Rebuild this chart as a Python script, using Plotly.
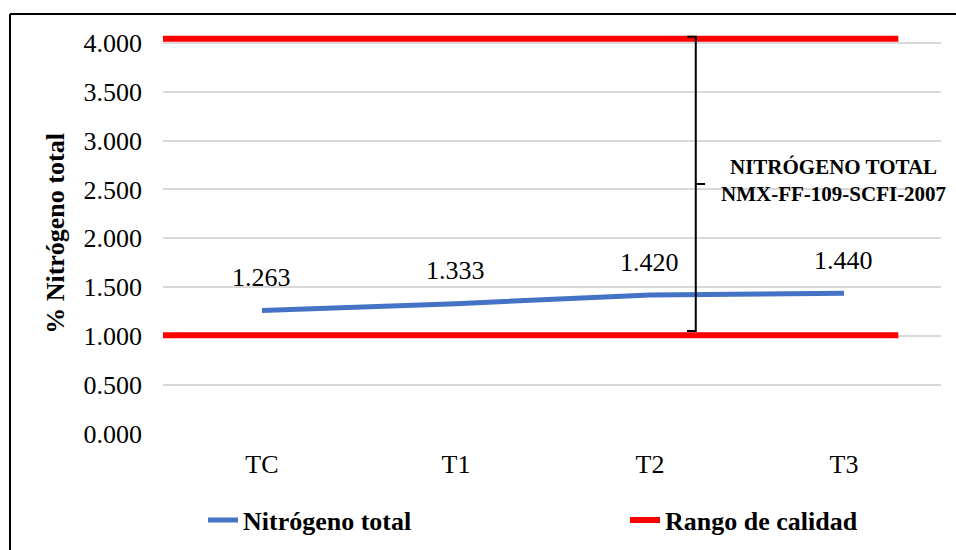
import plotly.graph_objects as go

# ---- data ----
categories = ["TC", "T1", "T2", "T3"]
nitrogen = [1.263, 1.333, 1.420, 1.440]
range_limits = [4.04, 1.01]          # red "Rango de calidad" lines as drawn
range_x = [-0.51, 3.28]              # horizontal extent of the red lines
y_ticks = [0, 0.5, 1, 1.5, 2, 2.5, 3, 3.5, 4]
y_ticktext = [f"{v:.3f}" for v in y_ticks]
norm_text = "NITRÓGENO TOTAL<br>NMX-FF-109-SCFI-2007"

FONT = "Liberation Serif, Times New Roman, serif"
x_pos = list(range(len(categories)))

# figure geometry (page body margin removed below, so figure px = page px)
W, H = 956, 550
L, R, T, B = 163, 15, 33, 116
PW, PH = W - L - R, H - T - B

fig = go.Figure()

fig.add_trace(go.Scatter(
    x=x_pos, y=nitrogen, mode="lines", name="Nitrógeno total",
    line=dict(color="#4472C4", width=5), hoverinfo="skip", legend="legend",
))

rx, ry = [], []
for v in range_limits:
    rx += [range_x[0], range_x[1], None]
    ry += [v, v, None]
fig.add_trace(go.Scatter(
    x=rx, y=ry, mode="lines", name="Rango de calidad",
    line=dict(color="#FF0000", width=6), hoverinfo="skip", legend="legend2",
))

# data labels
for xi, v in zip(x_pos, nitrogen):
    fig.add_annotation(x=xi, y=v, text=f"{v:.3f}", showarrow=False,
                       yshift=33, font=dict(family=FONT, size=26, color="#000"))

# brace
bx, bl, br = 2.236, 2.191, 2.284
btop, bmid, bbot = 4.062, 2.556, 1.053
fig.add_shape(type="path", xref="x", yref="y",
              path=f"M {bl},{btop} L {bx},{btop} L {bx},{bbot} L {bl},{bbot} M {bx},{bmid} L {br},{bmid}",
              line=dict(color="#000", width=2))
fig.add_annotation(x=2.944, y=2.597, text=norm_text, showarrow=False,
                   font=dict(family=FONT, size=21, color="#000", weight="bold"),
                   align="center")

# outer frame: only top and left edges are visible in the window
fx0, fy0 = (10 - L) / PW, (T + PH - 14) / PH
fig.add_shape(type="line", xref="paper", yref="paper",
              x0=fx0, x1=(W + 20 - L) / PW, y0=fy0, y1=fy0,
              line=dict(color="#000", width=2), layer="above")
fig.add_shape(type="line", xref="paper", yref="paper",
              x0=fx0, x1=fx0, y0=fy0, y1=-(B + 20) / PH,
              line=dict(color="#000", width=2), layer="above")

leg_font = dict(family=FONT, size=26, color="#000", weight="bold")
fig.update_layout(
    width=W, height=H,
    margin=dict(l=L, r=R, t=T, b=B, autoexpand=False),
    paper_bgcolor="white", plot_bgcolor="white",
    font=dict(family=FONT, size=26, color="#000"),
    showlegend=True,
    legend=dict(orientation="h", x=(203 - L) / PW, y=-86 / PH, xanchor="left",
                yanchor="middle", font=leg_font, bgcolor="rgba(0,0,0,0)"),
    legend2=dict(orientation="h", x=(625 - L) / PW, y=-86 / PH, xanchor="left",
                 yanchor="middle", font=leg_font, bgcolor="rgba(0,0,0,0)"),
    xaxis=dict(range=[-0.51, 3.5], tickmode="array", tickvals=x_pos, ticktext=categories,
               showgrid=False, zeroline=False, showline=False, ticks="",
               ticklabelstandoff=12, tickfont=dict(family=FONT, size=26)),
    yaxis=dict(range=[0, 4.1], tickmode="array", tickvals=y_ticks, ticktext=y_ticktext,
               showgrid=True, gridcolor="#D9D9D9", gridwidth=1.5, zeroline=False,
               showline=False, ticks="", ticklabelstandoff=20,
               tickfont=dict(family=FONT, size=26),
               title=dict(text="<b>% Nitrógeno total</b>", standoff=11,
                          font=dict(family=FONT, size=26))),
)

fig.write_html("out.html", config={"displayModeBar": False},
               post_script="document.body.style.margin='0px';")
